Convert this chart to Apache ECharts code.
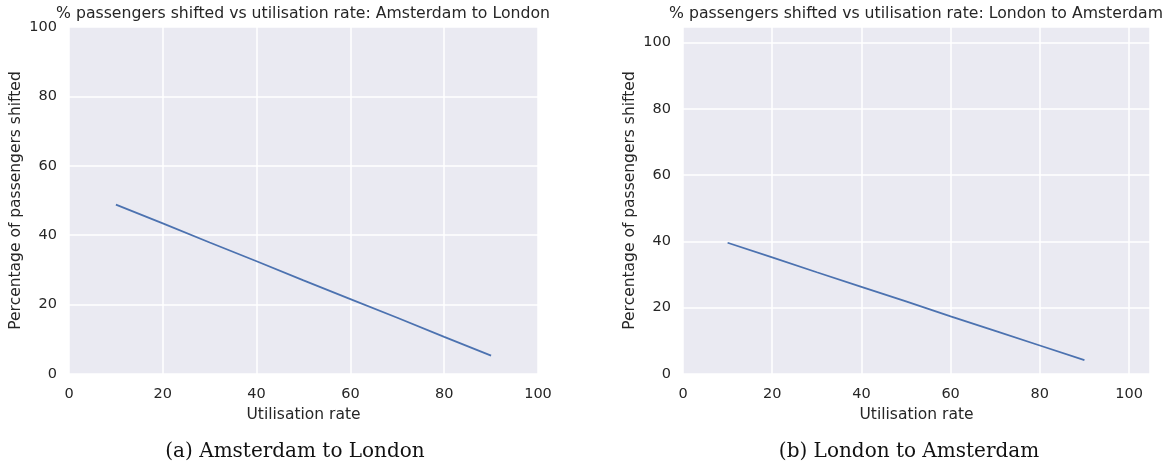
<!DOCTYPE html>
<html>
<head>
<meta charset="utf-8">
<script src="https://cdn.jsdelivr.net/npm/echarts@6/dist/echarts.min.js"></script>
<style>
  html, body { margin: 0; padding: 0; background: #fff; }
  #chart { width: 1174px; height: 466px; }
</style>
</head>
<body>
<div id="chart"></div>
<script>
// utilisation rate (x) and % passengers shifted (y)
var utilRate = [10, 20, 30, 40, 50, 60, 70, 80, 90];
var amsToLon = [48.8, 43.4, 37.9, 32.5, 27.0, 21.6, 16.2, 10.7, 5.3];
var lonToAms = [39.6, 35.2, 30.7, 26.3, 21.9, 17.4, 13.0, 8.6, 4.2];
var titles = [
    '% passengers shifted vs utilisation rate: Amsterdam to London',
    '% passengers shifted vs utilisation rate: London to Amsterdam'
];
var captions = ['(a) Amsterdam to London', '(b) London to Amsterdam'];

var chart = echarts.init(document.getElementById('chart'));
var font = 'DejaVu Sans';
var txt = '#262626';

function pairs(ys) {
    return utilRate.map(function (x, i) { return [x, ys[i]]; });
}

function xAxis(idx, max) {
    return {
        type: 'value', gridIndex: idx, min: 0, max: max, interval: 20,
        name: 'Utilisation rate', nameLocation: 'middle', nameGap: 31,
        nameTextStyle: { fontFamily: font, fontSize: 15.5, color: txt },
        axisLine: { show: false }, axisTick: { show: false },
        axisLabel: {
            fontFamily: font, fontSize: 14.5, color: txt, margin: 13,
            formatter: function (v) { return v % 20 === 0 ? v : ''; }
        },
        splitLine: { lineStyle: { color: '#fff', width: 1.5 } }
    };
}

function yAxis(idx, max) {
    return {
        type: 'value', gridIndex: idx, min: 0, max: max, interval: 20,
        name: 'Percentage of passengers shifted', nameLocation: 'middle', nameGap: 45,
        nameTextStyle: { fontFamily: font, fontSize: 15.5, color: txt },
        axisLine: { show: false }, axisTick: { show: false },
        axisLabel: {
            fontFamily: font, fontSize: 14.5, color: txt, margin: 12,
            formatter: function (v) { return v % 20 === 0 ? v : ''; }
        },
        splitLine: { lineStyle: { color: '#fff', width: 1.5 } }
    };
}

var gridBase = { show: true, backgroundColor: '#eaeaf2', borderWidth: 0, top: 27, bottom: 92 };

chart.setOption({
    animation: false,
    grid: [
        Object.assign({ left: 69, right: 636 }, gridBase),
        Object.assign({ left: 683, right: 24 }, gridBase)
    ],
    xAxis: [xAxis(0, 100), xAxis(1, 104.7)],
    yAxis: [yAxis(0, 100), yAxis(1, 104.7)],
    series: [
        {
            type: 'line', xAxisIndex: 0, yAxisIndex: 0, data: pairs(amsToLon),
            showSymbol: false, lineStyle: { color: '#4c72b0', width: 1.8 }
        },
        {
            type: 'line', xAxisIndex: 1, yAxisIndex: 1, data: pairs(lonToAms),
            showSymbol: false, lineStyle: { color: '#4c72b0', width: 1.8 }
        }
    ],
    graphic: [
        { type: 'text', x: 303, y: 14, style: { text: titles[0], font: '15.7px "DejaVu Sans"', fill: txt, align: 'center', verticalAlign: 'middle' } },
        { type: 'text', x: 916, y: 14, style: { text: titles[1], font: '15.7px "DejaVu Sans"', fill: txt, align: 'center', verticalAlign: 'middle' } },
        { type: 'text', x: 295, y: 452, style: { text: captions[0], font: '20px "DejaVu Serif"', fill: '#111', align: 'center', verticalAlign: 'middle' } },
        { type: 'text', x: 909, y: 452, style: { text: captions[1], font: '20px "DejaVu Serif"', fill: '#111', align: 'center', verticalAlign: 'middle' } }
    ]
});
</script>
</body>
</html>
